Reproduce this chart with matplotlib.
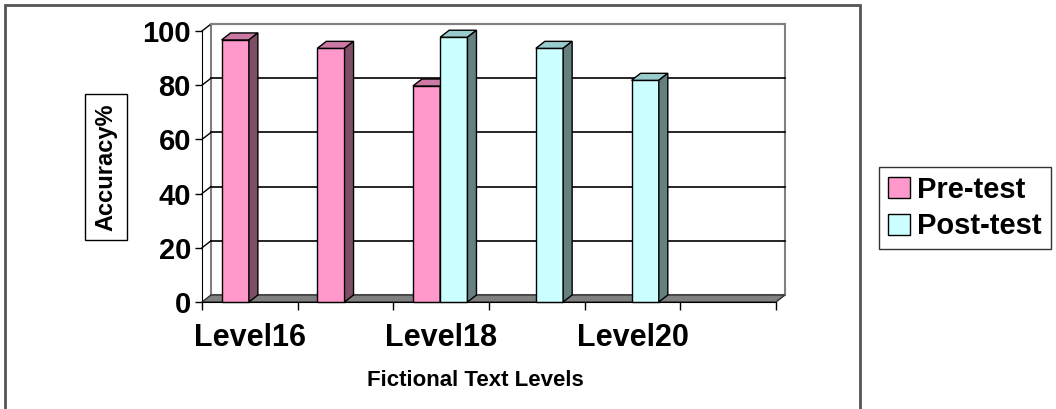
import matplotlib
matplotlib.use('Agg')
import matplotlib.pyplot as plt
from matplotlib.patches import Polygon, Rectangle, Patch
import numpy as np

plt.rcParams['font.family'] = ['Liberation Sans', 'DejaVu Sans']
plt.rcParams['font.weight'] = 'bold'

# accuracy per text level (nan = not tested)
levels = ['Level16', 'Level17', 'Level18', 'Level19', 'Level20', 'Level21']
pre_test = [96.7, 93.6, 79.7, np.nan, np.nan, np.nan]
post_test = [np.nan, np.nan, 97.7, 93.6, 81.8, np.nan]
y_ticks = [0, 20, 40, 60, 80, 100]

series = [
    ('Pre-test', pre_test, '#FF99CC', '#CC7AA3', '#804D66'),
    ('Post-test', post_test, '#CCFFFF', '#99CCCC', '#668080'),
]

W, H = 1056, 409
fig = plt.figure(figsize=(W / 100, H / 100), dpi=100)
ax = fig.add_axes([202 / W, (H - 302) / H, 574 / W, 271 / H])
n = len(levels)
ax.set_xlim(-0.5, n - 0.5)
ax.set_ylim(0, 100)

# depth of the 3d box in data units (about 9 px right, 7 px up)
dx = 9 / (574 / n)
dy = 7 / 2.71
x0, x1 = -0.5, n - 0.5

# back wall
ax.add_patch(Polygon([(x0 + dx, dy), (x1 + dx, dy), (x1 + dx, 100 + dy), (x0 + dx, 100 + dy)],
                     closed=True, facecolor='white', edgecolor='#808080', lw=1.5,
                     clip_on=False, zorder=1))
# gridlines on the wall, with the short diagonal on the side
for v in y_ticks[1:]:
    col = '#808080' if v == 100 else 'black'
    ax.plot([x0, x0 + dx], [v, v + dy], color='black', lw=1, clip_on=False, zorder=2)
    ax.plot([x0 + dx, x1 + dx], [v + dy, v + dy], color=col, lw=1.2 if v < 100 else 1.5,
            clip_on=False, zorder=2)

# floor
ax.add_patch(Polygon([(x0, 0), (x1, 0), (x1 + dx, dy), (x0 + dx, dy)], closed=True,
                     facecolor='#808080', edgecolor='#333333', lw=1, clip_on=False, zorder=3))

bw = 0.285
x = np.arange(n)
for k, (name, vals, front, top, side) in enumerate(series):
    vals = np.array(vals, dtype=float)
    ok = ~np.isnan(vals)
    left = x[ok] - bw * (1 - k) - 0.01
    ax.bar(left, vals[ok], width=bw, align='edge', color=front, edgecolor='black',
           lw=1, zorder=5 + k, clip_on=False)
    for l, v in zip(left, vals[ok]):
        r = l + bw
        ax.add_patch(Polygon([(l, v), (r, v), (r + dx, v + dy), (l + dx, v + dy)], closed=True,
                             facecolor=top, edgecolor='black', lw=1, zorder=5 + k, clip_on=False))
        ax.add_patch(Polygon([(r, 0), (r + dx, dy), (r + dx, v + dy), (r, v)], closed=True,
                             facecolor=side, edgecolor='black', lw=1, zorder=5 + k, clip_on=False))

for s in ['top', 'right']:
    ax.spines[s].set_visible(False)
ax.spines['left'].set_zorder(10)
ax.spines['bottom'].set_zorder(10)
ax.patch.set_visible(False)

ax.set_yticks(y_ticks)
ax.set_yticklabels([str(v) for v in y_ticks], fontsize=21, fontweight='bold')
ax.tick_params(axis='y', length=5, width=1, pad=3)

ax.set_xticks(x)
ax.set_xticklabels([lab if i % 2 == 0 else '' for i, lab in enumerate(levels)],
                   fontsize=22, fontweight='bold')
ax.set_xticks(np.arange(n + 1) - 0.5, minor=True)
ax.tick_params(axis='x', which='major', length=0, pad=15)
ax.tick_params(axis='x', which='minor', length=6, width=1)

fig.text(106 / W, 1 - 167 / H, 'Accuracy%', rotation=90, ha='center', va='center',
         fontsize=17, fontweight='bold',
         bbox=dict(boxstyle='square,pad=0.4', facecolor='white', edgecolor='black', lw=1))
fig.text(475 / W, 1 - 381 / H, 'Fictional Text Levels', ha='center', va='center',
         fontsize=16, fontweight='bold')

handles = [Patch(facecolor=s[2], edgecolor='black', lw=1) for s in series]
leg = fig.legend(handles, [s[0] for s in series], loc='center',
                 bbox_to_anchor=(965 / W, 1 - 208 / H), fontsize=21, frameon=True,
                 fancybox=False, handlelength=0.75, handleheight=0.75, handletextpad=0.25,
                 borderpad=0.3, labelspacing=0.3, borderaxespad=0)
leg.get_frame().set_edgecolor('black')
leg.get_frame().set_linewidth(1)
for t in leg.get_texts():
    t.set_fontweight('bold')

# chart frame, open at the bottom edge of the image
fig.patches.append(Rectangle((5 / W, -0.02), 855 / W, 1.02 - 5 / H, transform=fig.transFigure,
                             fill=False, edgecolor='#555555', lw=2))

fig.savefig('out.png', dpi=100, facecolor='white')
